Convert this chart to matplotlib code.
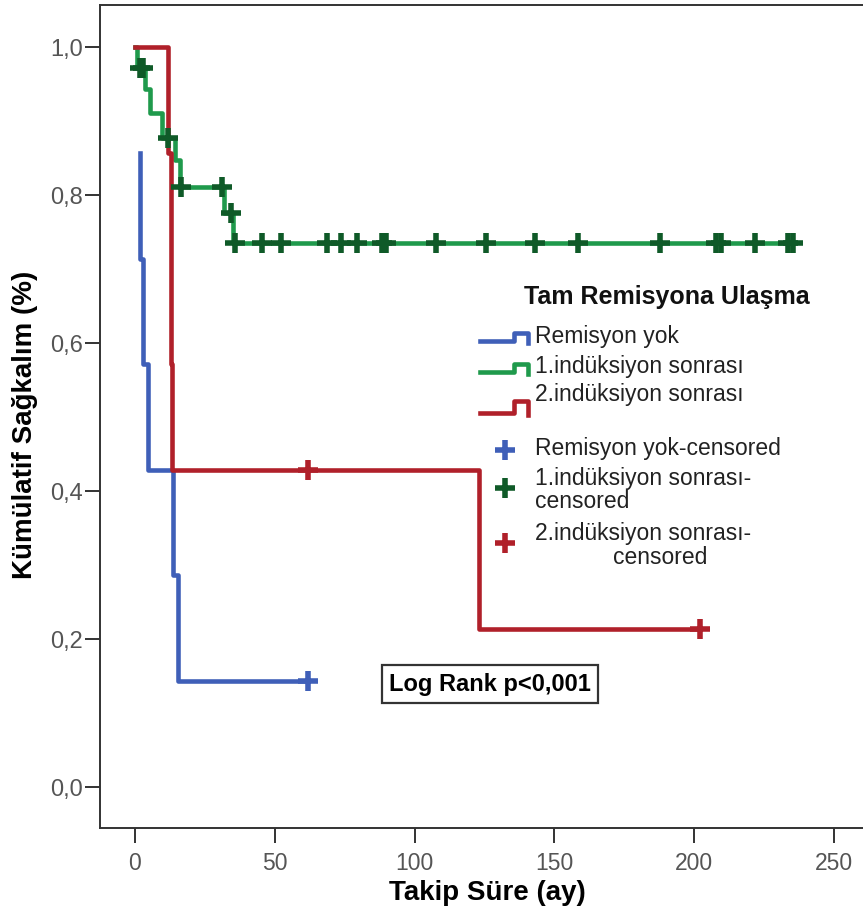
import numpy as np
import matplotlib
matplotlib.use("Agg")
import matplotlib.pyplot as plt
import matplotlib.font_manager as fm
from matplotlib.lines import Line2D
from matplotlib.ticker import FuncFormatter

W, H = 863, 921

# Kaplan-Meier curves (time in months, cumulative survival)
blue_time = [1.8, 1.8, 2.9, 4.6, 13.6, 15.4, 61.9]
blue_surv = [0.857, 0.714, 0.571, 0.429, 0.286, 0.143, 0.143]
blue_cens = [61.9]

green_time = [0, 0.9, 3.6, 5.4, 9.7, 14.3, 16.0, 31.8, 35.0, 235.2]
green_surv = [1.0, 0.971, 0.943, 0.911, 0.877, 0.848, 0.811, 0.776, 0.735, 0.735]
green_cens = [1.8, 2.8, 11.8, 16.3, 31.1, 34.2, 35.6, 45.4, 52.4, 68.5, 73.6,
              79.4, 88.2, 89.8, 107.7, 125.7, 143.0, 158.3, 187.9, 207.8,
              209.4, 221.7, 233.4, 235.2]

red_time = [0, 11.8, 12.9, 13.3, 123.0, 202.0]
red_surv = [1.0, 0.857, 0.571, 0.429, 0.214, 0.214]
red_cens = [61.9, 202.0]

x_ticks = [0, 50, 100, 150, 200, 250]
y_ticks = [0.0, 0.2, 0.4, 0.6, 0.8, 1.0]

group_labels = ["Remisyon yok", "1.indüksiyon sonrası", "2.indüksiyon sonrası"]
cens_labels = ["Remisyon yok-censored", "1.indüksiyon sonrası-\ncensored",
               "2.indüksiyon sonrası-"]

BLUE = "#3f5fb8"
GREEN = "#1f9a4c"
GREEN_DARK = "#0f5a28"
RED = "#b0202a"

names = {f.name for f in fm.fontManager.ttflist}
if "Liberation Sans Narrow" in names:
    NARROW, LABEL_SIZE, XTICK_SIZE = "Liberation Sans Narrow", 24, 19
else:
    NARROW, LABEL_SIZE, XTICK_SIZE = "Liberation Sans", 20, 16.5
plt.rcParams["font.family"] = ["Liberation Sans", "DejaVu Sans"]


def surv_at(times, survs, t):
    """value of the step curve at time t"""
    idx = np.searchsorted(times, t, side="right") - 1
    return np.asarray(survs)[idx]


def fx(px):
    return px / W


def fy(py):
    return 1 - py / H


fig = plt.figure(figsize=(W / 100, H / 100), dpi=100)
ax = fig.add_axes([fx(100), fy(828), (885 - 100) / W, (828 - 5) / H])

for t, s, c in [(blue_time, blue_surv, BLUE), (green_time, green_surv, GREEN),
                (red_time, red_surv, RED)]:
    ax.plot(t, s, drawstyle="steps-post", color=c, lw=3.3)

for cens, t, s, c in [(blue_cens, blue_time, blue_surv, BLUE),
                      (green_cens, green_time, green_surv, GREEN_DARK),
                      (red_cens, red_time, red_surv, RED)]:
    ax.plot(cens, surv_at(t, s, cens), ls="none", marker="+", ms=14, mew=4,
            color=c)

# x range chosen so 0 sits at 135 px and 250 at 834 px
ax.set_xlim(-12.5, 268.2)
ax.set_ylim(-0.0554, 1.0568)
ax.set_xticks(x_ticks)
ax.set_yticks(y_ticks)
ax.yaxis.set_major_formatter(FuncFormatter(lambda v, p: f"{v:.1f}".replace(".", ",")))

for side in ["top", "bottom", "left", "right"]:
    ax.spines[side].set_linewidth(1.4)
    ax.spines[side].set_color("#333333")
ax.tick_params(direction="out", length=11, width=1.4, color="#333333")
ax.tick_params(axis="y", labelsize=17, pad=1, labelcolor="#555555")
ax.tick_params(axis="x", labelsize=XTICK_SIZE, pad=6, labelcolor="#555555")
for lab in ax.get_xticklabels():
    lab.set_family(NARROW)

ax.set_xlabel("Takip Süre (ay)", family=NARROW, fontweight="bold",
              fontsize=LABEL_SIZE)
ax.xaxis.set_label_coords((487 - 100) / 785, -(893 - 828) / 823)
ax.xaxis.label.set_va("center")
ax.set_ylabel("Kümülatif Sağkalım (%)", family=NARROW, fontweight="bold",
              fontsize=LABEL_SIZE)
ax.yaxis.set_label_coords(-(100 - 25) / 785, (828 - 425) / 823)
ax.yaxis.label.set_va("center")

# Log rank box
fig.text(fx(490), fy(684), "Log Rank p<0,001", ha="center", va="center",
         fontsize=17, fontweight="bold",
         bbox=dict(boxstyle="square,pad=0.3", fc="white", ec="#333333", lw=1.6))

# legend drawn by hand to follow the original layout
fig.text(fx(667), fy(297), "Tam Remisyona Ulaşma", ha="center", va="center",
         fontsize=18, fontweight="bold", color="#111111")

icons = [(BLUE, 337, 8), (GREEN, 368, 8), (RED, 407, 12)]
for c, yc, h in icons:
    lo, hi = yc + h / 2, yc - h / 2
    fig.add_artist(Line2D([fx(480), fx(514), fx(514), fx(528), fx(528)],
                          [fy(lo), fy(lo), fy(hi), fy(hi), fy(lo + 2)],
                          color=c, lw=3.3, transform=fig.transFigure))
text_y = [336, 367, 394]
for lab, yy in zip(group_labels, text_y):
    fig.text(fx(535), fy(yy), lab, ha="left", va="center", fontsize=16.5,
             color="#222222")

cross_y = [450, 488, 543]
for c, yy in zip([BLUE, GREEN_DARK, RED], cross_y):
    fig.add_artist(Line2D([fx(505)], [fy(yy)], marker="+", ms=14, mew=4,
                          color=c, ls="none", transform=fig.transFigure))
fig.text(fx(535), fy(448), cens_labels[0], ha="left", va="center",
         fontsize=16.5, color="#222222")
fig.text(fx(535), fy(490), cens_labels[1], ha="left", va="center",
         fontsize=16.5, color="#222222", linespacing=1.0)
fig.text(fx(535), fy(533), cens_labels[2], ha="left", va="center",
         fontsize=16.5, color="#222222")
fig.text(fx(613), fy(557), "censored", ha="left", va="center",
         fontsize=16.5, color="#222222")

fig.savefig("out.png", dpi=100)
